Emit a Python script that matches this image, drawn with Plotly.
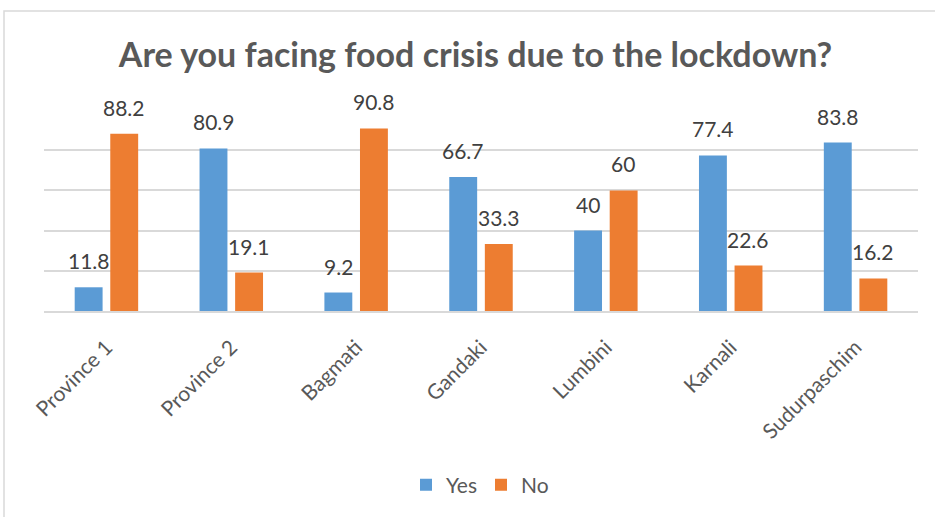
import plotly.graph_objects as go

# Survey responses by province (percent)
provinces = ["Province 1", "Province 2", "Bagmati", "Gandaki", "Lumbini", "Karnali", "Sudurpaschim"]
yes_pct = [11.8, 80.9, 9.2, 66.7, 40, 77.4, 83.8]
no_pct = [88.2, 19.1, 90.8, 33.3, 60, 22.6, 16.2]

W, H = 935, 517
PLOT_L, PLOT_R, PLOT_T, PLOT_B = 44, 918, 110, 311

BLUE = "#5B9BD5"
ORANGE = "#ED7D31"
GRID = "#D9D9D9"
FONT = "Lato, 'Open Sans', sans-serif"

fig = go.Figure()
fig.add_trace(go.Bar(name="Yes", x=provinces, y=yes_pct, marker_color=BLUE,
                     marker_line_width=0))
fig.add_trace(go.Bar(name="No", x=provinces, y=no_pct, marker_color=ORANGE,
                     marker_line_width=0))

# value labels above each bar
offset = 17.6
for cat, yv, nv in zip(provinces, yes_pct, no_pct):
    for val, dx in ((yv, -offset), (nv, offset)):
        fig.add_annotation(x=cat, y=val, text=f"{val:g}", showarrow=False,
                           xshift=dx, yshift=12, yanchor="bottom",
                           font=dict(family=FONT, size=21, color="#404040"))

# outer chart border (top and left edges visible)
pw = PLOT_R - PLOT_L
ph = PLOT_B - PLOT_T
def px_x(p):
    return (p - PLOT_L) / pw
def px_y(p):
    return (PLOT_B - p) / ph
fig.add_shape(type="rect", xref="paper", yref="paper",
              x0=px_x(4), x1=px_x(W + 10), y0=px_y(H + 10), y1=px_y(11),
              line=dict(color=GRID, width=1.5), fillcolor="rgba(0,0,0,0)")

fig.update_layout(
    width=W, height=H,
    margin=dict(l=PLOT_L, r=W - PLOT_R, t=PLOT_T, b=H - PLOT_B),
    paper_bgcolor="white", plot_bgcolor="white",
    barmode="group", bargap=0.43, bargroupgap=0.216,
    title=dict(text="<b>Are you facing food crisis due to the lockdown?</b>",
               x=475.5 / W, xref="container", xanchor="center",
               y=1 - 55 / H, yref="container", yanchor="middle",
               font=dict(family=FONT, size=34, color="#595959")),
    xaxis=dict(tickangle=-45, showline=True, linecolor=GRID, linewidth=1.5,
               ticks="", ticklabelstandoff=14,
               tickfont=dict(family=FONT, size=21, color="#595959")),
    yaxis=dict(range=[0, 100], dtick=20, showticklabels=False, showgrid=True,
               gridcolor=GRID, gridwidth=1.5, zeroline=False, showline=False),
    legend=dict(orientation="h", x=0.5, xanchor="center", y=px_y(485),
                yanchor="middle", font=dict(family=FONT, size=21, color="#595959"),
                itemwidth=30, entrywidth=30),
    showlegend=True,
)

fig.write_html("out.html")
